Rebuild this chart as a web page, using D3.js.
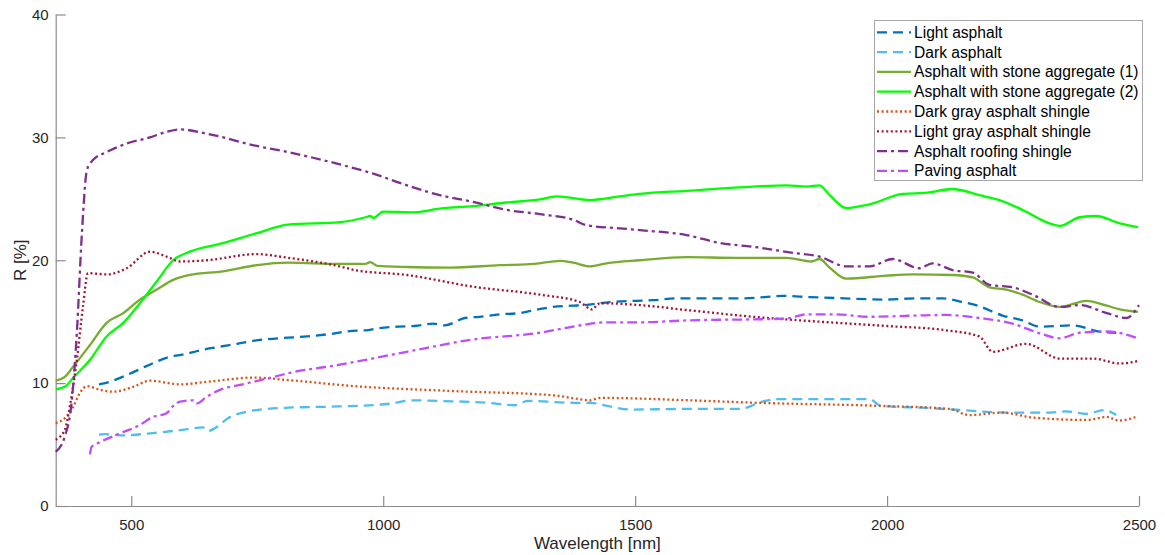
<!DOCTYPE html>
<html>
<head>
<meta charset="utf-8">
<script src="https://cdn.jsdelivr.net/npm/d3@7"></script>
<style>
  body { margin: 0; background: #fff; }
  text { font-family: "Liberation Sans", Arial, sans-serif; }
</style>
</head>
<body>
<div id="chart"></div>
<script>
// spectra: [wavelength nm, reflectance %]
let lightAsphalt = [[436,9.9],[448,10.0],[488,10.6],[531,11.4],[573,12.1],[606,12.35],[640,12.7],[666,12.9],[710,13.2],[752,13.5],[811,13.7],[849,13.8],[895,14.0],[938,14.25],[965,14.3],[988,14.45],[1029,14.6],[1063,14.65],[1099,14.85],[1122,14.7],[1162,15.3],[1191,15.4],[1232,15.6],[1271,15.7],[1307,16.0],[1337,16.2],[1375,16.3],[1400,16.35],[1450,16.6],[1495,16.7],[1535,16.75],[1585,16.9],[1717,16.9],[1757,17.0],[1793,17.1],[1846,17.0],[1915,16.9],[1995,16.8],[2058,16.9],[2110,16.9],[2150,16.6],[2180,16.3],[2229,15.5],[2269,15.1],[2303,14.6],[2368,14.7],[2421,14.2],[2455,14.1]]

let darkAsphalt = [[436,5.8],[447,5.85],[480,5.75],[547,5.95],[612,6.25],[642,6.4],[652,6.1],[665,6.3],[692,7.15],[732,7.7],[811,8.0],[910,8.1],[1009,8.3],[1057,8.6],[1108,8.55],[1207,8.4],[1261,8.2],[1287,8.55],[1380,8.4],[1410,8.4],[1450,8.1],[1490,7.85],[1600,7.9],[1708,7.9],[1753,8.5],[1781,8.7],[1965,8.7],[1985,8.2],[2005,8.1],[2071,8.0],[2150,7.8],[2237,7.6],[2323,7.6],[2355,7.7],[2396,7.5],[2430,7.8],[2455,7.4]]

let stone1 = [[350,10.2],[368,10.5],[384,11.3],[418,13.1],[451,14.9],[484,15.7],[517,16.8],[550,17.6],[583,18.4],[616,18.8],[682,19.1],[749,19.6],[811,19.8],[914,19.7],[965,19.7],[974,19.85],[988,19.55],[1047,19.45],[1133,19.4],[1232,19.6],[1300,19.7],[1351,19.95],[1377,19.8],[1410,19.5],[1443,19.75],[1509,20.0],[1602,20.25],[1700,20.2],[1800,20.2],[1850,19.9],[1866,20.1],[1886,19.4],[1919,18.5],[1999,18.75],[2051,18.85],[2130,18.8],[2170,18.6],[2203,17.8],[2237,17.6],[2269,17.2],[2303,16.6],[2343,16.2],[2396,16.7],[2436,16.3],[2462,16.0],[2498,15.8]]

let stone2 = [[350,9.5],[368,9.7],[384,10.4],[418,11.9],[451,13.8],[484,14.9],[517,16.5],[550,18.25],[583,20.0],[616,20.7],[682,21.4],[749,22.2],[811,22.9],[914,23.1],[965,23.5],[974,23.6],[980,23.45],[1000,23.95],[1060,23.9],[1112,24.2],[1178,24.4],[1245,24.7],[1311,24.95],[1344,25.2],[1410,24.9],[1469,25.2],[1509,25.4],[1602,25.65],[1734,26.0],[1800,26.1],[1840,26.0],[1866,26.1],[1886,25.3],[1919,24.25],[1965,24.55],[2031,25.4],[2080,25.5],[2130,25.8],[2183,25.3],[2223,24.9],[2276,23.95],[2316,23.1],[2343,22.8],[2382,23.5],[2415,23.6],[2462,23.0],[2498,22.7]]

let darkGrayShingle = [[350,6.75],[368,7.15],[384,8.0],[398,9.2],[412,9.75],[438,9.45],[464,9.3],[504,9.7],[537,10.2],[597,9.9],[650,10.1],[742,10.45],[811,10.25],[944,9.75],[1142,9.35],[1340,9.0],[1380,8.75],[1410,8.6],[1430,8.8],[1608,8.6],[1741,8.4],[1985,8.15],[2124,7.9],[2163,7.4],[2229,7.6],[2289,7.2],[2396,7.0],[2436,7.25],[2460,6.95],[2498,7.3]]

let lightGrayShingle = [[350,5.4],[368,6.2],[378,8.1],[392,11.9],[404,16.2],[414,18.95],[451,18.85],[491,19.35],[537,20.7],[570,20.3],[597,19.9],[650,20.0],[749,20.5],[811,20.2],[914,19.5],[944,19.2],[1047,18.8],[1178,17.85],[1311,17.2],[1390,16.6],[1414,16.0],[1430,16.5],[1509,16.35],[1602,15.95],[1734,15.4],[1866,15.0],[1999,14.65],[2117,14.3],[2183,13.8],[2210,12.55],[2276,13.2],[2343,12.0],[2408,12.0],[2462,11.6],[2498,11.8]]

let roofingShingle = [[350,4.4],[368,5.65],[382,8.6],[392,14.1],[402,22.2],[412,27.35],[424,28.15],[451,28.8],[491,29.5],[537,30.0],[570,30.45],[597,30.65],[650,30.3],[749,29.3],[811,28.8],[914,27.8],[980,27.05],[1047,26.1],[1112,25.3],[1178,24.75],[1245,24.1],[1311,23.75],[1377,23.3],[1404,22.85],[1469,22.6],[1509,22.45],[1602,22.05],[1668,21.4],[1734,21.1],[1813,20.6],[1866,20.3],[1919,19.5],[1965,19.5],[2011,20.1],[2064,19.35],[2090,19.75],[2130,19.2],[2170,19.0],[2203,18.0],[2249,17.8],[2289,17.2],[2343,16.2],[2382,16.35],[2436,15.7],[2475,15.3],[2500,16.35]]

let pavingAsphalt = [[418,4.2],[421,4.8],[438,5.2],[471,5.8],[517,6.6],[543,7.25],[570,7.55],[585,8.2],[597,8.5],[623,8.6],[630,8.35],[650,8.9],[676,9.45],[716,9.85],[782,10.5],[811,10.8],[914,11.5],[1047,12.55],[1178,13.55],[1311,14.1],[1377,14.6],[1443,14.95],[1509,14.95],[1602,15.1],[1800,15.25],[1840,15.6],[1899,15.6],[1965,15.4],[2058,15.5],[2117,15.55],[2183,15.3],[2249,14.85],[2303,14.05],[2343,13.65],[2382,14.1],[2436,14.2],[2498,13.65]]

let names = ["Light asphalt", "Dark asphalt", "Asphalt with stone aggregate (1)",
    "Asphalt with stone aggregate (2)", "Dark gray asphalt shingle",
    "Light gray asphalt shingle", "Asphalt roofing shingle", "Paving asphalt"]
let seriesData = [lightAsphalt, darkAsphalt, stone1, stone2, darkGrayShingle,
    lightGrayShingle, roofingShingle, pavingAsphalt]
let colors = ["#0072bd", "#4dbeee", "#77ac30", "#00ff00", "#d95319", "#a2142f", "#7e2f8e", "#bf4dff"]
let dashes = ["10,6", "10,6", null, null, "2,2.6", "2,2.6", "10,4,3,4", "10,4,3,4"]

let xTicks = [500, 1000, 1500, 2000, 2500]
let yTicks = [0, 10, 20, 30, 40]

let width = 1165, height = 555

let svg = d3.select('#chart').append('svg')
    .attr('width', width)
    .attr('height', height)

let x = d3.scaleLinear().domain([350, 2500]).range([55.7, 1139])
let y = d3.scaleLinear().domain([0, 40]).range([506, 14.5])

// axes (box off, ticks inside)
let xAxis = svg.append('g')
    .attr('transform', 'translate(0,506)')
    .call(d3.axisBottom(x).tickValues(xTicks).tickFormat(d3.format('d'))
        .tickSize(-10).tickSizeOuter(0).tickPadding(6))
let yAxis = svg.append('g')
    .attr('transform', 'translate(55.7,0)')
    .call(d3.axisLeft(y).tickValues(yTicks).tickFormat(d3.format('d'))
        .tickSize(-10).tickSizeOuter(0).tickPadding(7))

svg.selectAll('.domain').attr('stroke', '#8c8c8c').attr('stroke-width', 1.2)
svg.selectAll('.tick line').attr('stroke', '#8c8c8c').attr('stroke-width', 1.2)
svg.selectAll('.tick text')
    .attr('fill', '#262626')
    .style('font-size', '15px')
    .style('font-family', '"Liberation Sans", Arial, sans-serif')
xAxis.selectAll('.tick text').attr('dy', '0.85em').attr('y', 11)

svg.append('text')
    .attr('x', (55.7 + 1139) / 2)
    .attr('y', 549)
    .attr('text-anchor', 'middle')
    .attr('fill', '#262626')
    .style('font-size', '17px')
    .text('Wavelength [nm]')

svg.append('text')
    .attr('transform', 'translate(26,' + y(20) + ') rotate(-90)')
    .attr('text-anchor', 'middle')
    .attr('fill', '#262626')
    .style('font-size', '17px')
    .text('R [%]')

let line = d3.line()
    .x(function (d) { return x(d[0]) })
    .y(function (d) { return y(d[1]) })
    .curve(d3.curveMonotoneX)

seriesData.forEach(function (data, i) {
    svg.append('path')
        .datum(data)
        .attr('d', line)
        .attr('fill', 'none')
        .attr('stroke', colors[i])
        .attr('stroke-width', 2.3)
        .attr('stroke-dasharray', dashes[i])
})

// legend
let legend = svg.append('g')
legend.append('rect')
    .attr('x', 874.5).attr('y', 20.5)
    .attr('width', 268).attr('height', 160)
    .attr('fill', '#fff')
    .attr('stroke', '#a6a6a6')
    .attr('stroke-width', 1)

names.forEach(function (name, i) {
    let ly = 32.3 + i * 19.8
    legend.append('line')
        .attr('x1', 877).attr('x2', 911)
        .attr('y1', ly).attr('y2', ly)
        .attr('stroke', colors[i])
        .attr('stroke-width', 2.3)
        .attr('stroke-dasharray', dashes[i])
    legend.append('text')
        .attr('x', 914)
        .attr('y', ly)
        .attr('dy', '0.35em')
        .attr('fill', '#000')
        .style('font-size', '15.6px')
        .text(name)
})
</script>
</body>
</html>
